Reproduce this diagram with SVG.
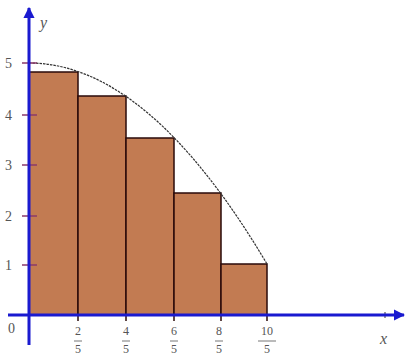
<svg xmlns="http://www.w3.org/2000/svg" width="406" height="358" viewBox="0 0 406 358">
<style>
.bar{fill:#c27b52;stroke:#2a0a0a;stroke-width:1.5}
.axis{stroke:#1a1ad0;stroke-width:3;fill:none}
.tick{stroke:#2a0a0a;stroke-width:1.5}
.ytick{stroke:#8a3a6a;stroke-width:1.5}
.lbl{font-family:"Liberation Serif",serif;font-size:14px;fill:#555}
.fr{font-family:"Liberation Serif",serif;font-size:12px;fill:#555;text-anchor:middle}
.fb{stroke:#777;stroke-width:1}
.var{font-family:"Liberation Serif",serif;font-style:italic;font-size:16px;fill:#555}
.curve{fill:none;stroke:#333;stroke-width:1.2;stroke-dasharray:2.5 1}
</style>
<defs>
<marker id="arr" viewBox="0 0 10 10" refX="9" refY="5" markerWidth="3.8" markerHeight="3.8" orient="auto" markerUnits="strokeWidth">
<path d="M0,0 L10,5 L0,10 z" fill="#1a1ad0"/>
</marker>
</defs>
<g id="bars">
<rect id="r1" class="bar" x="29" y="72" width="49" height="243"/>
<rect id="r2" class="bar" x="78" y="96" width="48" height="219"/>
<rect id="r3" class="bar" x="126" y="138" width="48" height="177"/>
<rect id="r4" class="bar" x="174" y="193" width="47" height="122"/>
<rect id="r5" class="bar" x="221" y="264" width="46" height="51"/>
</g>
<g id="curve">
<path class="curve" d="M29,63 Q148,63 267,264"/>
</g>
<g id="connectors">
<line class="tick" x1="78" y1="315" x2="78" y2="321"/>
<line class="tick" x1="126" y1="315" x2="126" y2="321"/>
<line class="tick" x1="174" y1="315" x2="174" y2="321"/>
<line class="tick" x1="221" y1="315" x2="221" y2="321"/>
<line class="tick" x1="267" y1="315" x2="267" y2="321"/>
<line class="ytick" x1="22" y1="63" x2="37" y2="63"/>
<line class="ytick" x1="22" y1="115" x2="37" y2="115"/>
<line class="ytick" x1="22" y1="165" x2="37" y2="165"/>
<line class="ytick" x1="22" y1="216" x2="37" y2="216"/>
<line class="ytick" x1="22" y1="265" x2="37" y2="265"/>
<line x1="385" y1="312" x2="385" y2="318" style="stroke:#333;stroke-width:1"/>
<line class="axis" x1="8" y1="315" x2="404" y2="315" marker-end="url(#arr)"/>
<line class="axis" x1="29" y1="345" x2="29" y2="8" marker-end="url(#arr)"/>
</g>
<g id="labels">
<text class="lbl" x="5" y="68">5</text>
<text class="lbl" x="5" y="120">4</text>
<text class="lbl" x="5" y="170">3</text>
<text class="lbl" x="5" y="221">2</text>
<text class="lbl" x="5" y="270">1</text>
<text class="lbl" x="8" y="333">0</text>
<text class="var" x="380" y="344">x</text>
<text class="var" x="40" y="28">y</text>
</g>
<g id="fractions">
<text class="fr" x="78" y="335">2</text><line class="fb" x1="74" y1="341" x2="82" y2="341"/><text class="fr" x="78" y="353">5</text>
<text class="fr" x="126" y="335">4</text><line class="fb" x1="122" y1="341" x2="130" y2="341"/><text class="fr" x="126" y="353">5</text>
<text class="fr" x="174" y="335">6</text><line class="fb" x1="170" y1="341" x2="178" y2="341"/><text class="fr" x="174" y="353">5</text>
<text class="fr" x="219" y="335">8</text><line class="fb" x1="215" y1="341" x2="223" y2="341"/><text class="fr" x="219" y="353">5</text>
<text class="fr" x="267" y="335">10</text><line class="fb" x1="258" y1="341" x2="276" y2="341"/><text class="fr" x="267" y="353">5</text>
</g>
</svg>
